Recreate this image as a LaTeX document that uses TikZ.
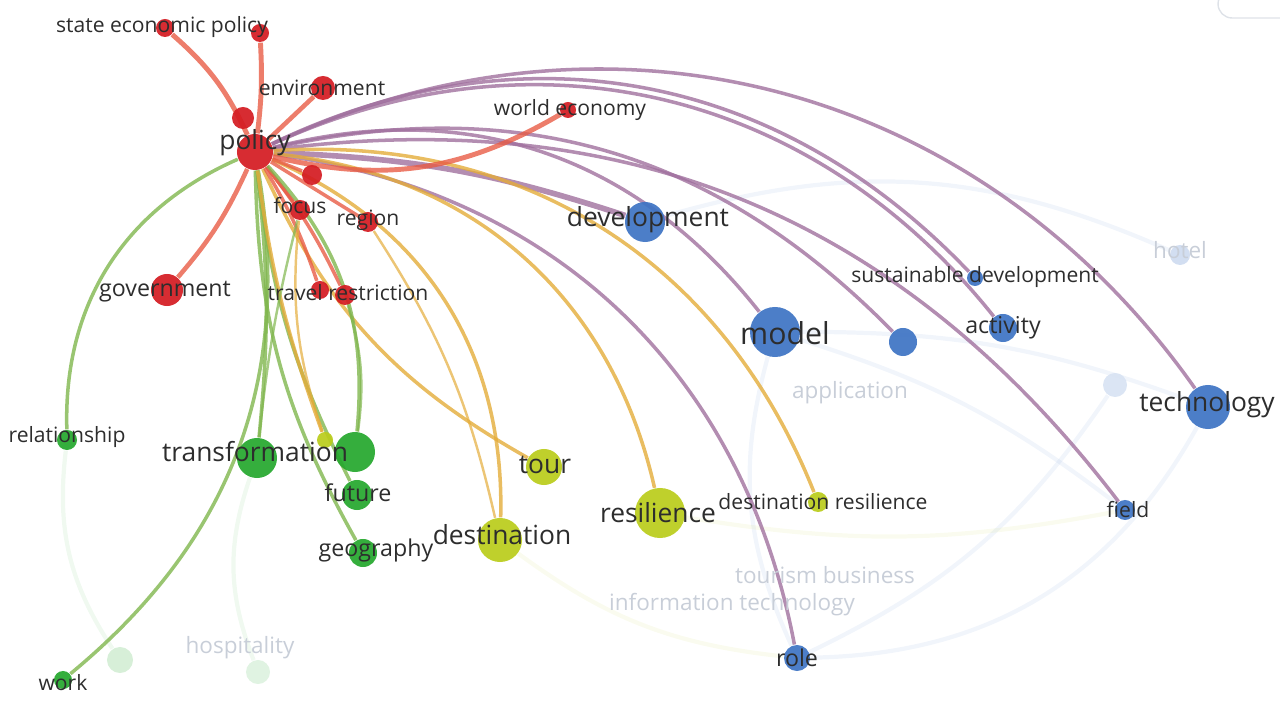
\documentclass[tikz,border=0pt]{standalone}
\usepackage{fontspec}
\setmainfont{Open Sans}
\usetikzlibrary{backgrounds}
% cluster colours
\definecolor{vred}{RGB}{212,28,34}
\definecolor{vblue}{RGB}{62,116,196}
\definecolor{vgreen}{RGB}{38,168,46}
\definecolor{vlime}{RGB}{186,204,28}
% link colours
\definecolor{ered}{RGB}{232,92,70}
\definecolor{eblue}{RGB}{160,112,158}
\definecolor{eyel}{RGB}{228,172,58}
\definecolor{egrn}{RGB}{128,182,78}
\definecolor{txt}{RGB}{45,45,45}
\definecolor{ghost}{RGB}{200,206,216}
\begin{document}
\begin{tikzpicture}[x=0.01cm,y=-0.01cm,
  dot/.style={circle,inner sep=0pt,fill=#1,fill opacity=.93},
  lbl/.style={text=txt,inner sep=0pt,font=\fontsize{6}{7}\selectfont},
  mid/.style={lbl,font=\fontsize{6.6}{8}\selectfont},
  big/.style={lbl,font=\fontsize{7.5}{9}\selectfont},
  huge/.style={lbl,font=\fontsize{8.6}{10}\selectfont},
  ghosttext/.style={text=ghost,inner sep=0pt,font=\fontsize{6.4}{8}\selectfont},
  link/.style={line width=1pt,draw=#1,draw opacity=.8},
  thin/.style={line width=.7pt,draw=#1,draw opacity=.7},
  haze/.style={line width=1.2pt,draw=#1,draw opacity=.07}]
\useasboundingbox (0,0) rectangle (1280,701);
\draw[ghost!60,rounded corners=4pt] (1218,-10) rectangle (1300,18);

% red cluster
\node[dot=vred,minimum size=3.6mm] (policy) at (255,152) {};
\node[dot=vred,minimum size=2.2mm] (pol2) at (243,118) {};
\node[dot=vred,minimum size=2mm] (pol3) at (312,175) {};
\node[dot=vred,minimum size=1.8mm] (state1) at (165,28) {};
\node[dot=vred,minimum size=1.8mm] (state2) at (260,33) {};
\node[dot=vred,minimum size=2.4mm] (envir) at (323,88) {};
\node[dot=vred,minimum size=1.6mm] (worldeco) at (568,110) {};
\node[dot=vred,minimum size=2mm] (focus) at (300,210) {};
\node[dot=vred,minimum size=2mm] (region) at (368,222) {};
\node[dot=vred,minimum size=3.2mm] (govern) at (167,290) {};
\node[dot=vred,minimum size=1.8mm] (travel1) at (320,290) {};
\node[dot=vred,minimum size=2mm] (travel2) at (345,295) {};

% blue cluster
\node[dot=vblue,minimum size=4mm] (devel) at (645,222) {};
\node[dot=vblue,minimum size=5mm] (model) at (775,332) {};
\node[dot=vblue,minimum size=2.8mm] (blue1) at (903,342) {};
\node[dot=vblue,minimum size=1.6mm] (sustdev) at (975,278) {};
\node[dot=vblue,minimum size=2.8mm] (activ) at (1003,328) {};
\node[dot=vblue,minimum size=4.4mm] (techn) at (1208,407) {};
\node[dot=vblue,minimum size=2mm] (field) at (1125,510) {};
\node[dot=vblue,minimum size=2.6mm] (role) at (797,658) {};

% green cluster
\node[dot=vgreen,minimum size=2mm] (relat) at (67,440) {};
\node[dot=vgreen,minimum size=4mm] (transf) at (257,458) {};
\node[dot=vgreen,minimum size=4mm] (green2) at (355,452) {};
\node[dot=vlime,minimum size=1.6mm] (lime1) at (325,440) {};
\node[dot=vgreen,minimum size=3mm] (future) at (357,495) {};
\node[dot=vgreen,minimum size=2.8mm] (geogr) at (363,553) {};
\node[dot=vgreen,minimum size=1.8mm] (work) at (63,680) {};

% yellow cluster
\node[dot=vlime,minimum size=3.6mm] (tour) at (544,467) {};
\node[dot=vlime,minimum size=4.4mm] (destin) at (500,540) {};
\node[dot=vlime,minimum size=5mm] (resil) at (660,513) {};
\node[dot=vlime,minimum size=2mm] (destres) at (818,502) {};

% faded items
\node[dot=vblue!25,minimum size=2mm] (hotel) at (1180,255) {};
\node[dot=vblue!20,minimum size=2.4mm] (blue2) at (1115,385) {};
\node[dot=vgreen!20,minimum size=2.6mm] (hosp1) at (120,660) {};
\node[dot=vgreen!15,minimum size=2.4mm] (hosp2) at (258,672) {};

\begin{scope}[on background layer]
% faint links
\draw[haze=vblue] (model) to[bend left=10] (techn);
\draw[haze=vblue] (model) to[bend right=20] (role);
\draw[haze=vblue] (role) to[bend right=30] (techn);
\draw[haze=vblue] (devel) to[bend left=20] (hotel);
\draw[haze=vblue] (model) to[bend left=10] (field);
\draw[haze=vblue] (blue2) to[bend left=15] (role);
\draw[haze=vgreen] (transf) to[bend right=20] (hosp2);
\draw[haze=vgreen] (relat) to[bend right=20] (hosp1);
\draw[haze=vlime] (destin) to[bend right=15] (role);
\draw[haze=vlime] (resil) to[bend right=10] (field);
% links of policy
\draw[link=eblue] (policy) to[bend left=40] (techn);
\draw[link=eblue] (policy) to[bend left=30] (field);
\draw[link=eblue] (policy) to[bend left=38] (activ);
\draw[link=eblue] (policy) to[bend left=36] (sustdev);
\draw[link=eblue] (policy) to[bend left=29] (blue1);
\draw[link=eblue] (policy) to[bend left=33] (model);
\draw[link=eblue,line width=1.6pt] (policy) to[bend left=8] (devel);
\draw[link=eblue] (policy) to[bend left=36] (role);
\draw[link=eyel] (policy) to[bend left=36] (destres);
\draw[link=eyel] (policy) to[bend left=36] (resil);
\draw[link=eyel] (policy) to[bend left=34] (destin);
\draw[link=eyel] (policy) to[bend right=18] (tour);
\draw[link=ered,line width=1.4pt] (policy) to[bend right=22] (worldeco);
\draw[link=ered,line width=1.4pt] (policy) to[bend right=12] (state1);
\draw[link=ered,line width=1.4pt] (policy) to[bend right=5] (state2);
\draw[link=ered,line width=1.3pt] (policy) to (envir);
\draw[link=ered] (policy) to (pol3);
\draw[link=ered] (policy) to (focus);
\draw[link=ered] (policy) to (region);
\draw[link=ered] (policy) to[bend left=6] (travel1);
\draw[link=ered] (policy) to[bend left=6] (travel2);
\draw[link=ered,line width=1.3pt] (policy) to[bend left=8] (govern);
\draw[link=egrn] (policy) to[bend right=34] (relat);
\draw[link=egrn] (policy) to[bend left=30] (work);
\draw[link=egrn] (policy) to[bend left=6] (transf);
\draw[link=egrn] (policy) to[bend left=24] (green2);
\draw[link=egrn] (policy) to[bend right=10] (future);
\draw[link=egrn] (policy) to[bend right=14] (geogr);
\draw[link=eyel] (policy) to[bend right=6] (lime1);
% links among the others
\draw[thin=egrn] (travel2) to[bend left=12] (green2);
\draw[thin=egrn] (focus) to[bend right=4] (transf);
\draw[thin=eyel] (region) to[bend left=10] (destin);
\draw[thin=eyel] (focus) to[bend right=12] (lime1);
\end{scope}

% labels
\node[big] (policyL) at (255,143) {policy};
\node[lbl] (stateL) at (162,27) {state economic policy};
\node[lbl] (envirL) at (322,88) {environment};
\node[lbl] (worldecoL) at (570,110) {world economy};
\node[lbl] (focusL) at (300,206) {focus};
\node[lbl] (regionL) at (368,220) {region};
\node[mid] (governL) at (165,292) {government};
\node[lbl] (travelL) at (348,293) {travel restriction};
\node[big] (develL) at (648,220) {development};
\node[huge] (modelL) at (785,333) {model};
\node[lbl] (sustdevL) at (975,277) {sustainable development};
\node[mid] (activL) at (1003,328) {activity};
\node[big] (technL) at (1207,405) {technology};
\node[lbl] (fieldL) at (1128,510) {field};
\node[mid] (roleL) at (797,658) {role};
\node[lbl] (relatL) at (67,437) {relationship};
\node[big] (transfL) at (255,452) {transformation};
\node[mid] (futureL) at (358,493) {future};
\node[mid] (geogrL) at (376,550) {geography};
\node[lbl] (workL) at (63,683) {work};
\node[big] (tourL) at (545,465) {tour};
\node[big] (destinL) at (502,535) {destination};
\node[big] (resilL) at (658,513) {resilience};
\node[lbl] (destresL) at (823,502) {destination resilience};
\node[ghosttext] (hotelL) at (1180,250) {hotel};
\node[ghosttext] (applL) at (850,393) {application};
\node[ghosttext] (tourbusL) at (825,575) {tourism business};
\node[ghosttext] (infotechL) at (732,605) {information technology};
\node[ghosttext] (hospL) at (240,648) {hospitality};
\end{tikzpicture}
\end{document}
